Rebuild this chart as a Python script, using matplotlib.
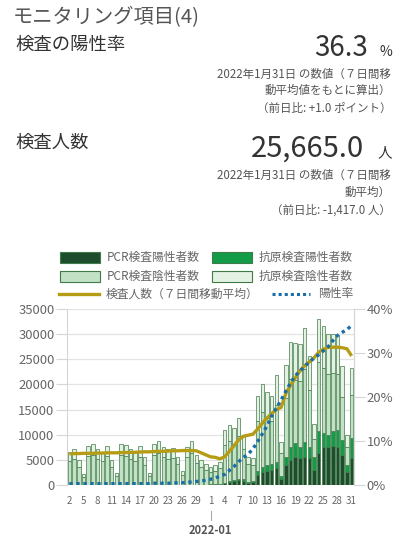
import numpy as np
import pandas as pd
import matplotlib
matplotlib.use("Agg")
import matplotlib.pyplot as plt
from matplotlib.patches import Rectangle
from matplotlib.lines import Line2D

plt.rcParams['font.family'] = ['Noto Sans CJK JP', 'DejaVu Sans']

# ---- data ----
dates = pd.date_range("2021-12-02", "2022-01-31", freq="D")

pcr_pos = [30, 35, 25, 15, 30, 35, 30, 30, 35, 25, 15, 40, 35, 30, 30, 35, 30, 15, 40, 45,
           40, 40, 45, 35, 20, 50, 60, 55, 50, 45,
           90, 120, 170, 400, 600, 800, 900, 800, 450, 500, 2000, 2500, 2800, 3000, 3300, 1200,
           4000, 5000, 5500, 5300, 5600, 5300, 2900, 6400, 7600, 7500, 7800, 7600, 5900, 2600, 5300]
ag_pos = [5, 5, 5, 3, 5, 5, 5, 5, 5, 5, 3, 5, 5, 5, 5, 5, 5, 3, 5, 5,
          5, 5, 5, 5, 5, 10, 10, 10, 10, 15,
          30, 50, 70, 80, 150, 200, 300, 300, 150, 200, 700, 1000, 1100, 1200, 1300, 600,
          1600, 2500, 2800, 2300, 3000, 2300, 2700, 4400, 2700, 2500, 3000, 3300, 3000, 1300, 4000]
pcr_neg = [4760, 5210, 3620, 1580, 5670, 5860, 5170, 4770, 5660, 3570, 1680, 5860, 5810, 5170, 4770,
           5560, 3970, 1680, 5860, 6300, 5460, 5210, 5250, 4060, 2030, 5490, 6330, 4290, 3490, 2940,
           2430, 2680, 3060, 7420, 7950, 7200, 8500, 6100, 3500, 3200, 10000, 11000, 9400, 8600, 11300,
           4500, 11800, 13500, 12500, 13000, 14500, 11300, 3500, 13600, 13000, 12100, 11400, 11100,
           8600, 3600, 8500]
ag_neg = [1800, 1950, 1350, 600, 2100, 2200, 1900, 1800, 2100, 1300, 600, 2200, 2150, 1900, 1800,
          2100, 1500, 600, 2200, 2350, 2000, 1950, 2000, 1500, 750, 2050, 2400, 1650, 1350, 1100,
          950, 1050, 1200, 3000, 3300, 3100, 3700, 2800, 1500, 1400, 4900, 5500, 5100, 4900, 6000,
          2300, 6500, 7500, 7400, 7400, 8200, 6700, 3000, 8600, 8300, 7900, 7800, 7800, 6200, 2500, 5500]

tests_7d = [6200, 6250, 6250, 6300, 6300, 6300, 6350, 6350, 6400, 6400, 6400, 6450, 6450, 6500, 6500,
            6550, 6600, 6600, 6650, 6700, 6700, 6750, 6800, 6800, 6850, 6850, 6850, 6800, 6400, 6000,
            5600, 5500, 5200, 5600, 6700, 7800, 9000, 9700, 9900, 10100, 11100, 12300, 13300, 14200,
            15000, 15400, 18200, 19800, 21300, 22700, 23700, 24500, 25300, 26400, 27000, 27400, 27400,
            27400, 27300, 27082, 25665]
pos_rate = [0.3, 0.3, 0.3, 0.3, 0.3, 0.3, 0.3, 0.3, 0.3, 0.3, 0.3, 0.3, 0.3, 0.3, 0.3, 0.3, 0.3, 0.3,
            0.4, 0.4, 0.4, 0.4, 0.45, 0.5, 0.5, 0.6, 0.7, 0.8, 0.9, 1.1,
            1.3, 1.6, 2.0, 2.4, 3.3, 4.2, 5.3, 6.3, 7.0, 8.2, 9.8, 11.6, 13.4, 15.7, 17.5, 19.3, 21.3,
            23.2, 24.8, 25.9, 26.9, 28.0, 28.8, 29.6, 30.5, 31.4, 32.8, 34.0, 34.7, 35.3, 36.3]

c_pcr_pos = '#1e4d2e'
c_ag_pos = '#129c48'
c_pcr_neg = '#c3e2c5'
c_ag_neg = '#e4f2e4'
c_edge = '#3f7b48'
c_avg = '#b59c14'
c_rate = '#1a6ea8'

W, H = 411, 544
fig = plt.figure(figsize=(W / 100, H / 100), dpi=100)


def fx(x):
    return x / W


def fy(y):
    return 1 - y / H


# ---- header texts ----
fig.text(fx(13), fy(18), 'モニタリング項目(4)', fontsize=14.6, color='#555555', va='center')
fig.text(fx(15), fy(45), '検査の陽性率', fontsize=13.2, color='#333333', va='center')
fig.text(fx(368), fy(56), '36.3', fontsize=20, color='#333333', ha='right', va='baseline')
fig.text(fx(392), fy(56), '%', fontsize=10, color='#333333', ha='right', va='baseline')
fig.text(fx(391), fy(74), '2022年1月31日 の数値（７日間移', fontsize=8.3, color='#555555', ha='right', va='center')
fig.text(fx(391), fy(90), '動平均値をもとに算出）', fontsize=8.3, color='#555555', ha='right', va='center')
fig.text(fx(391), fy(108), '（前日比: +1.0 ポイント）', fontsize=8.3, color='#555555', ha='right', va='center')

fig.text(fx(15), fy(143), '検査人数', fontsize=13.2, color='#333333', va='center')
fig.text(fx(364), fy(157), '25,665.0', fontsize=21, color='#333333', ha='right', va='baseline')
fig.text(fx(392), fy(157), '人', fontsize=10.5, color='#333333', ha='right', va='baseline')
fig.text(fx(391), fy(175), '2022年1月31日 の数値（７日間移', fontsize=8.3, color='#555555', ha='right', va='center')
fig.text(fx(391), fy(192), '動平均）', fontsize=8.3, color='#555555', ha='right', va='center')
fig.text(fx(391), fy(210), '（前日比: -1,417.0 人）', fontsize=8.3, color='#555555', ha='right', va='center')

# ---- legend (drawn by hand to match placement) ----
leg_items = [
    (60, 252, c_pcr_pos, c_edge, 'PCR検査陽性者数'),
    (212, 252, c_ag_pos, c_edge, '抗原検査陽性者数'),
    (60, 271, c_pcr_neg, c_edge, 'PCR検査陰性者数'),
    (212, 271, c_ag_neg, c_edge, '抗原検査陰性者数'),
]
for x0, y0, fc, ec, lab in leg_items:
    fig.add_artist(Rectangle((fx(x0), fy(y0 + 11)), 40 / W, 11 / H, transform=fig.transFigure,
                             facecolor=fc, edgecolor=ec, linewidth=0.8))
    fig.text(fx(x0 + 47), fy(y0 + 5.5), lab, fontsize=8.5, color='#666666', va='center')
fig.add_artist(Line2D([fx(59), fx(99)], [fy(294), fy(294)], transform=fig.transFigure,
                      color=c_avg, linewidth=2.4))
fig.text(fx(106), fy(294), '検査人数（７日間移動平均）', fontsize=8.5, color='#666666', va='center')
fig.add_artist(Line2D([fx(272), fx(310)], [fy(294), fy(294)], transform=fig.transFigure,
                      color=c_rate, linewidth=2.2, linestyle=(0, (1, 1))))
fig.text(fx(318), fy(294), '陽性率', fontsize=8.5, color='#666666', va='center')

# ---- chart ----
ax = fig.add_axes([fx(67), fy(485), (354 - 67) / W, (485 - 309) / H])
x = np.arange(len(dates))
bw = 0.74
b0 = np.zeros(len(x))
for vals, col in [(pcr_pos, c_pcr_pos), (ag_pos, c_ag_pos), (pcr_neg, c_pcr_neg), (ag_neg, c_ag_neg)]:
    ax.bar(x, vals, bw, bottom=b0, color=col, edgecolor=c_edge, linewidth=0.5, zorder=2)
    b0 = b0 + np.array(vals)

ax.plot(x, tests_7d, color=c_avg, linewidth=2.4, zorder=4, solid_capstyle='butt')

ax.set_xlim(-0.5, len(x) - 0.5)
ax.set_ylim(0, 35000)
ax.set_yticks(np.arange(0, 35001, 5000))
ax.grid(axis='y', color='#e3e3e3', linewidth=0.9, zorder=0)
ax.set_axisbelow(True)
tick_idx = x[::3]
ax.set_xticks(tick_idx)
ax.set_xticklabels([str(dates[i].day) for i in tick_idx])
ax.tick_params(axis='x', length=0, pad=8, labelsize=7, labelcolor='#666666')
ax.tick_params(axis='y', length=8, width=0.8, color='#d6d6d6', pad=1, labelsize=9.4, labelcolor='#666666')
for s in ['top', 'bottom']:
    ax.spines[s].set_visible(False)
for s in ['left', 'right']:
    ax.spines[s].set_color('#d6d6d6')
    ax.spines[s].set_linewidth(0.8)

ax2 = ax.twinx()
ax2.plot(x, pos_rate, color=c_rate, linewidth=2.4, linestyle=(0, (1, 1.1)), zorder=5)
ax2.set_ylim(0, 40)
ax2.set_yticks([0, 10, 20, 30, 40])
ax2.set_yticklabels(['0%', '10%', '20%', '30%', '40%'])
ax2.tick_params(axis='y', length=8, width=0.8, color='#d6d6d6', pad=1, labelsize=9.4, labelcolor='#666666')
for s in ['top', 'bottom', 'left']:
    ax2.spines[s].set_visible(False)
ax2.spines['right'].set_color('#d6d6d6')
ax2.spines['right'].set_linewidth(0.8)

# month marker under Jan 1
jan1 = list(dates).index(pd.Timestamp('2022-01-01'))
ax.plot([jan1, jan1], [-(511 - 485) / 176, -(520 - 485) / 176], color='#aaaaaa', linewidth=0.8,
        transform=ax.get_xaxis_transform(), clip_on=False)
ax.text(jan1, -(530 - 485) / 176, '2022-01', transform=ax.get_xaxis_transform(), ha='center',
        va='center', fontsize=8, fontweight='bold', color='#555555')

fig.savefig('out.png', dpi=100)
